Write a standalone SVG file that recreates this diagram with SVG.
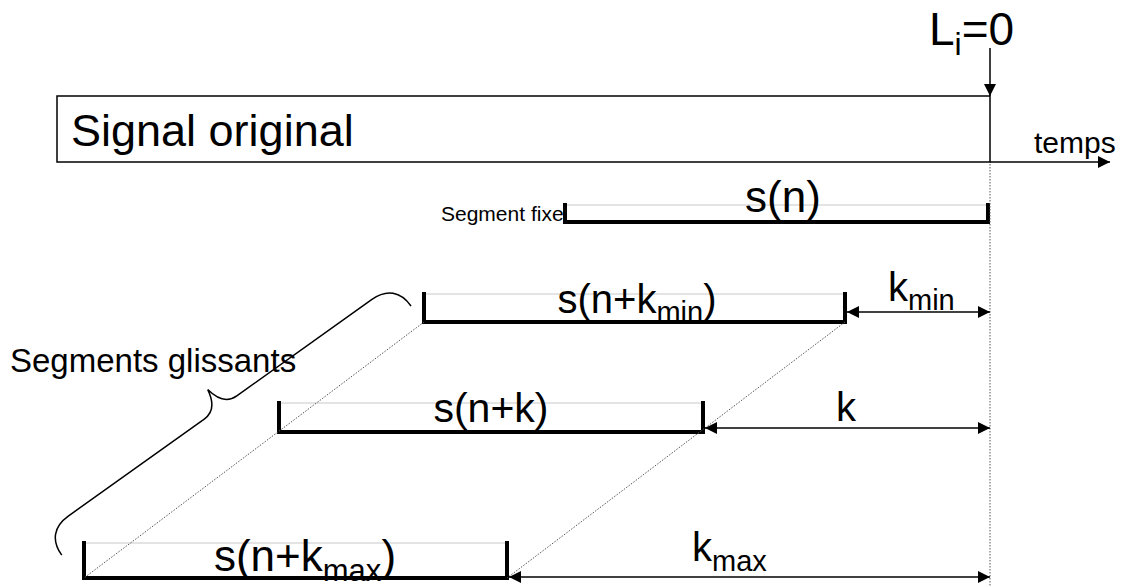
<svg xmlns="http://www.w3.org/2000/svg" width="1127" height="587" viewBox="0 0 1127 587">
<style>
text{font-family:"Liberation Sans",Arial,sans-serif;fill:#000}
.seg{fill:none;stroke:#000;stroke-width:4;stroke-linejoin:miter;stroke-linecap:square}
.top{stroke:#c8c8c8;stroke-width:1}
.dim{stroke:#000;stroke-width:1.5;fill:none}
.dot{stroke:#555;stroke-width:1;stroke-dasharray:1.5 1.5;fill:none}
.lbl{font-size:40px}
.sub{font-size:29px}
</style>
<defs>
<marker id="ah" viewBox="0 0 10 10" refX="10" refY="5" markerWidth="15" markerHeight="12" markerUnits="userSpaceOnUse" orient="auto-start-reverse">
<path d="M0,0 L10,5 L0,10 z" fill="#000"/>
</marker>
</defs>
<g id="signal">
<rect x="57" y="96" width="933" height="66" fill="#fff" stroke="#000" stroke-width="1.5"/>
<text x="71" y="146" font-size="45">Signal original</text>
</g>
<g id="li">
<text x="929" y="45" font-size="46">L<tspan font-size="32" dy="10">i</tspan><tspan dy="-10">=0</tspan></text>
</g>
<g id="temps">
<text x="1034" y="153" font-size="30">temps</text>
</g>
<g id="fixe">
<line class="top" x1="565" y1="205" x2="988" y2="205"/>
<path class="seg" d="M565,205 V222 H988 V205"/>
<text x="441" y="221" font-size="21">Segment fixe</text>
<text x="783" y="212" font-size="44" text-anchor="middle">s(n)</text>
</g>
<g id="kmin">
<line class="top" x1="424" y1="294" x2="845" y2="294"/>
<path class="seg" d="M424,294 V322 H845 V294"/>
<text x="637" y="313" class="lbl" text-anchor="middle">s(n+k<tspan class="sub" dy="9">min</tspan><tspan dy="-9">)</tspan></text>
<text x="888" y="301" class="lbl">k<tspan class="sub" dy="9">min</tspan></text>
</g>
<g id="k">
<line class="top" x1="279" y1="403" x2="703" y2="403"/>
<path class="seg" d="M279,403 V432 H703 V403"/>
<text x="491" y="422" font-size="41" text-anchor="middle">s(n+k)</text>
<text x="846" y="421" class="lbl" text-anchor="middle">k</text>
</g>
<g id="kmax">
<line class="top" x1="84" y1="543" x2="507" y2="543"/>
<path class="seg" d="M84,543 V578 H507 V543"/>
<text x="305" y="571" font-size="44" text-anchor="middle">s(n+k<tspan font-size="31" dy="10">max</tspan><tspan dy="-10">)</tspan></text>
<text x="692" y="561" class="lbl">k<tspan class="sub" dy="10">max</tspan></text>
</g>
<g id="glissants">
<text x="10" y="372" font-size="33">Segments glissants</text>
<path fill="none" stroke="#000" stroke-width="1.5" transform="translate(411,306) rotate(144.5)" d="M0,0 C0,18 10,28 28,28 L194,28 C206,28 212,38 214,50 C216,38 222,28 234,28 L401,28 C419,28 429,18 429,0"/>
</g>
<g id="connectors">
<line class="dim" x1="990" y1="48" x2="990" y2="96" marker-end="url(#ah)"/>
<line class="dim" x1="990" y1="162" x2="1110" y2="162" marker-end="url(#ah)"/>
<line class="dot" x1="990" y1="164" x2="990" y2="586"/>
<line class="dot" x1="424" y1="322" x2="84" y2="578"/>
<line class="dot" x1="845" y1="322" x2="507" y2="578"/>
<line class="dim" x1="847" y1="312" x2="990" y2="312" marker-start="url(#ah)" marker-end="url(#ah)"/>
<line class="dim" x1="705" y1="428" x2="990" y2="428" marker-start="url(#ah)" marker-end="url(#ah)"/>
<line class="dim" x1="509" y1="577" x2="990" y2="577" marker-start="url(#ah)" marker-end="url(#ah)"/>
</g>
</svg>
